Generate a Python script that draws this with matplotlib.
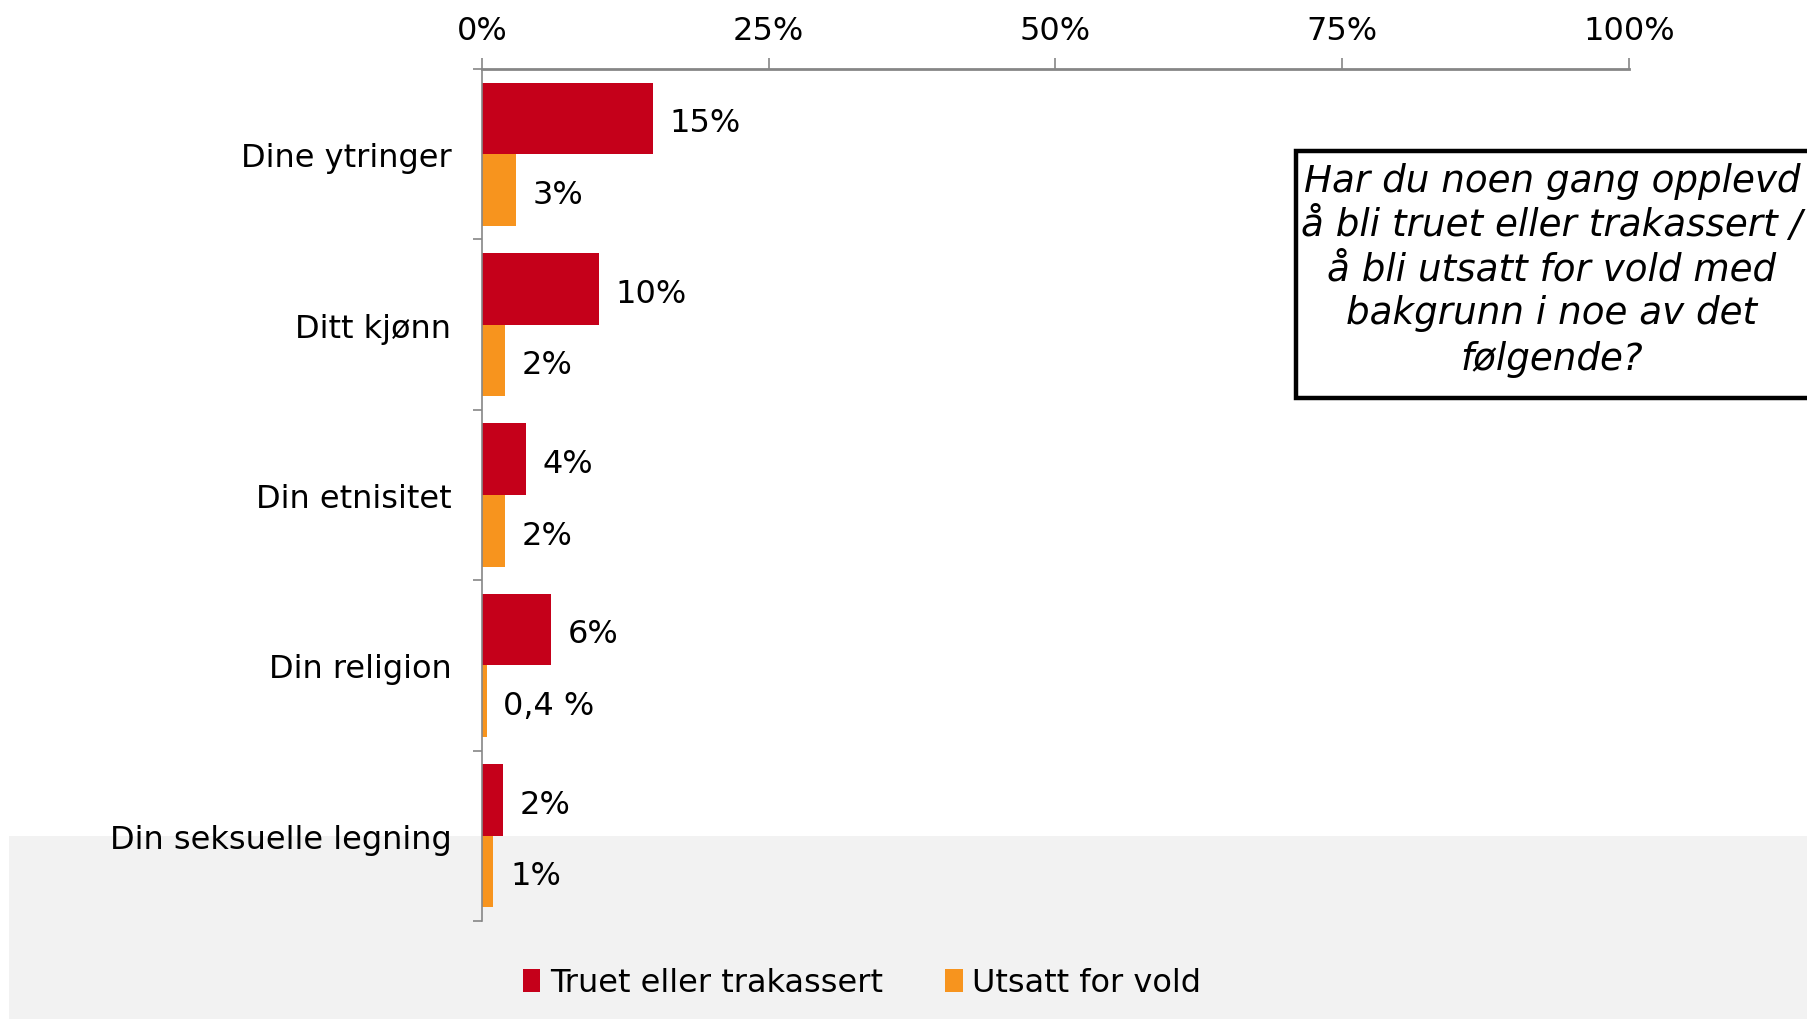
import matplotlib
matplotlib.use("Agg")
import matplotlib.pyplot as plt
from matplotlib.patches import Rectangle, Patch
import numpy as np

plt.rcParams['font.family'] = ['DejaVu Sans']

categories = ["Dine ytringer", "Ditt kjønn", "Din etnisitet", "Din religion", "Din seksuelle legning"]
truet = [14.9, 10.2, 3.8, 6.0, 1.8]
vold = [3.0, 2.0, 2.0, 0.4, 1.0]
truet_labels = ["15%", "10%", "4%", "6%", "2%"]
vold_labels = ["3%", "2%", "2%", "0,4 %", "1%"]
series_names = ["Truet eller trakassert", "Utsatt for vold"]
xticks = [0, 25, 50, 75, 100]
xtick_labels = ["0%", "25%", "50%", "75%", "100%"]
box_lines = ["Har du noen gang opplevd", "å bli truet eller trakassert /",
             "å bli utsatt for vold med", "bakgrunn i noe av det", "følgende?"]

RED = "#C5001A"
ORANGE = "#F7941E"
AXC = "#868686"
FS = 23

W, H = 1808, 1020
fig = plt.figure(figsize=(W / 100, H / 100), dpi=100)

# gray background band
fig.patches.append(Rectangle((9 / W, 0), 1 - 9 / W, 1 - 837 / H, transform=fig.transFigure,
                             facecolor="#F2F2F2", edgecolor="none", zorder=-5))

ax = fig.add_axes([482 / W, 1 - 922 / H, (1629 - 482) / W, (922 - 70) / H])
ax.set_facecolor("none")
ax.set_zorder(1)

y = np.arange(len(categories))
h = 0.42
ax.barh(y - h / 2, truet, height=h, color=RED, edgecolor="none", zorder=2)
ax.barh(y + h / 2, vold, height=h, color=ORANGE, edgecolor="none", zorder=2)

off = 1.45
for i in range(len(categories)):
    ax.text(truet[i] + off, y[i] - h / 2 + 0.025, truet_labels[i], va="center", ha="left", fontsize=FS)
    ax.text(vold[i] + off, y[i] + h / 2 + 0.025, vold_labels[i], va="center", ha="left", fontsize=FS)

ax.set_xlim(0, 100)
ax.set_ylim(len(categories) - 0.5, -0.5)

ax.xaxis.tick_top()
ax.set_xticks(xticks)
ax.set_xticklabels(xtick_labels, fontsize=FS)
ax.tick_params(axis="x", which="major", length=8, width=1.2, color=AXC, pad=8.5)

ax.set_yticks(np.arange(-0.5, len(categories), 1.0))
ax.set_yticklabels([])
ax.set_yticks(y, minor=True)
ax.set_yticklabels(categories, minor=True, fontsize=FS)
ax.tick_params(axis="y", which="major", length=6.5, width=1.2, color=AXC)
ax.tick_params(axis="y", which="minor", length=0, pad=22)

for s in ["right", "bottom"]:
    ax.spines[s].set_visible(False)
ax.spines["top"].set_color(AXC)
ax.spines["top"].set_linewidth(2.0)
ax.spines["left"].set_color(AXC)
ax.spines["left"].set_linewidth(1.2)

# question box
fig.patches.append(Rectangle((1296 / W, 1 - 399 / H), (1850 - 1296) / W, (399 - 152) / H,
                             transform=fig.transFigure, facecolor="white", edgecolor="black",
                             linewidth=3.2, zorder=3, clip_on=False))
line_y = [181, 226, 270, 314, 359]
for txt, ly in zip(box_lines, line_y):
    fig.text(1552 / W, 1 - ly / H, txt, ha="center", va="center", fontsize=26.8,
             style="italic", zorder=4)

handles = [Patch(facecolor=RED, edgecolor="none"), Patch(facecolor=ORANGE, edgecolor="none")]
fig.legend(handles, series_names, loc="center", bbox_to_anchor=(862 / W, 1 - 984 / H),
           ncol=2, frameon=False, fontsize=FS, handlelength=0.55, handleheight=0.7,
           handletextpad=0.3, columnspacing=1.95)

fig.savefig("out.png", dpi=100)
